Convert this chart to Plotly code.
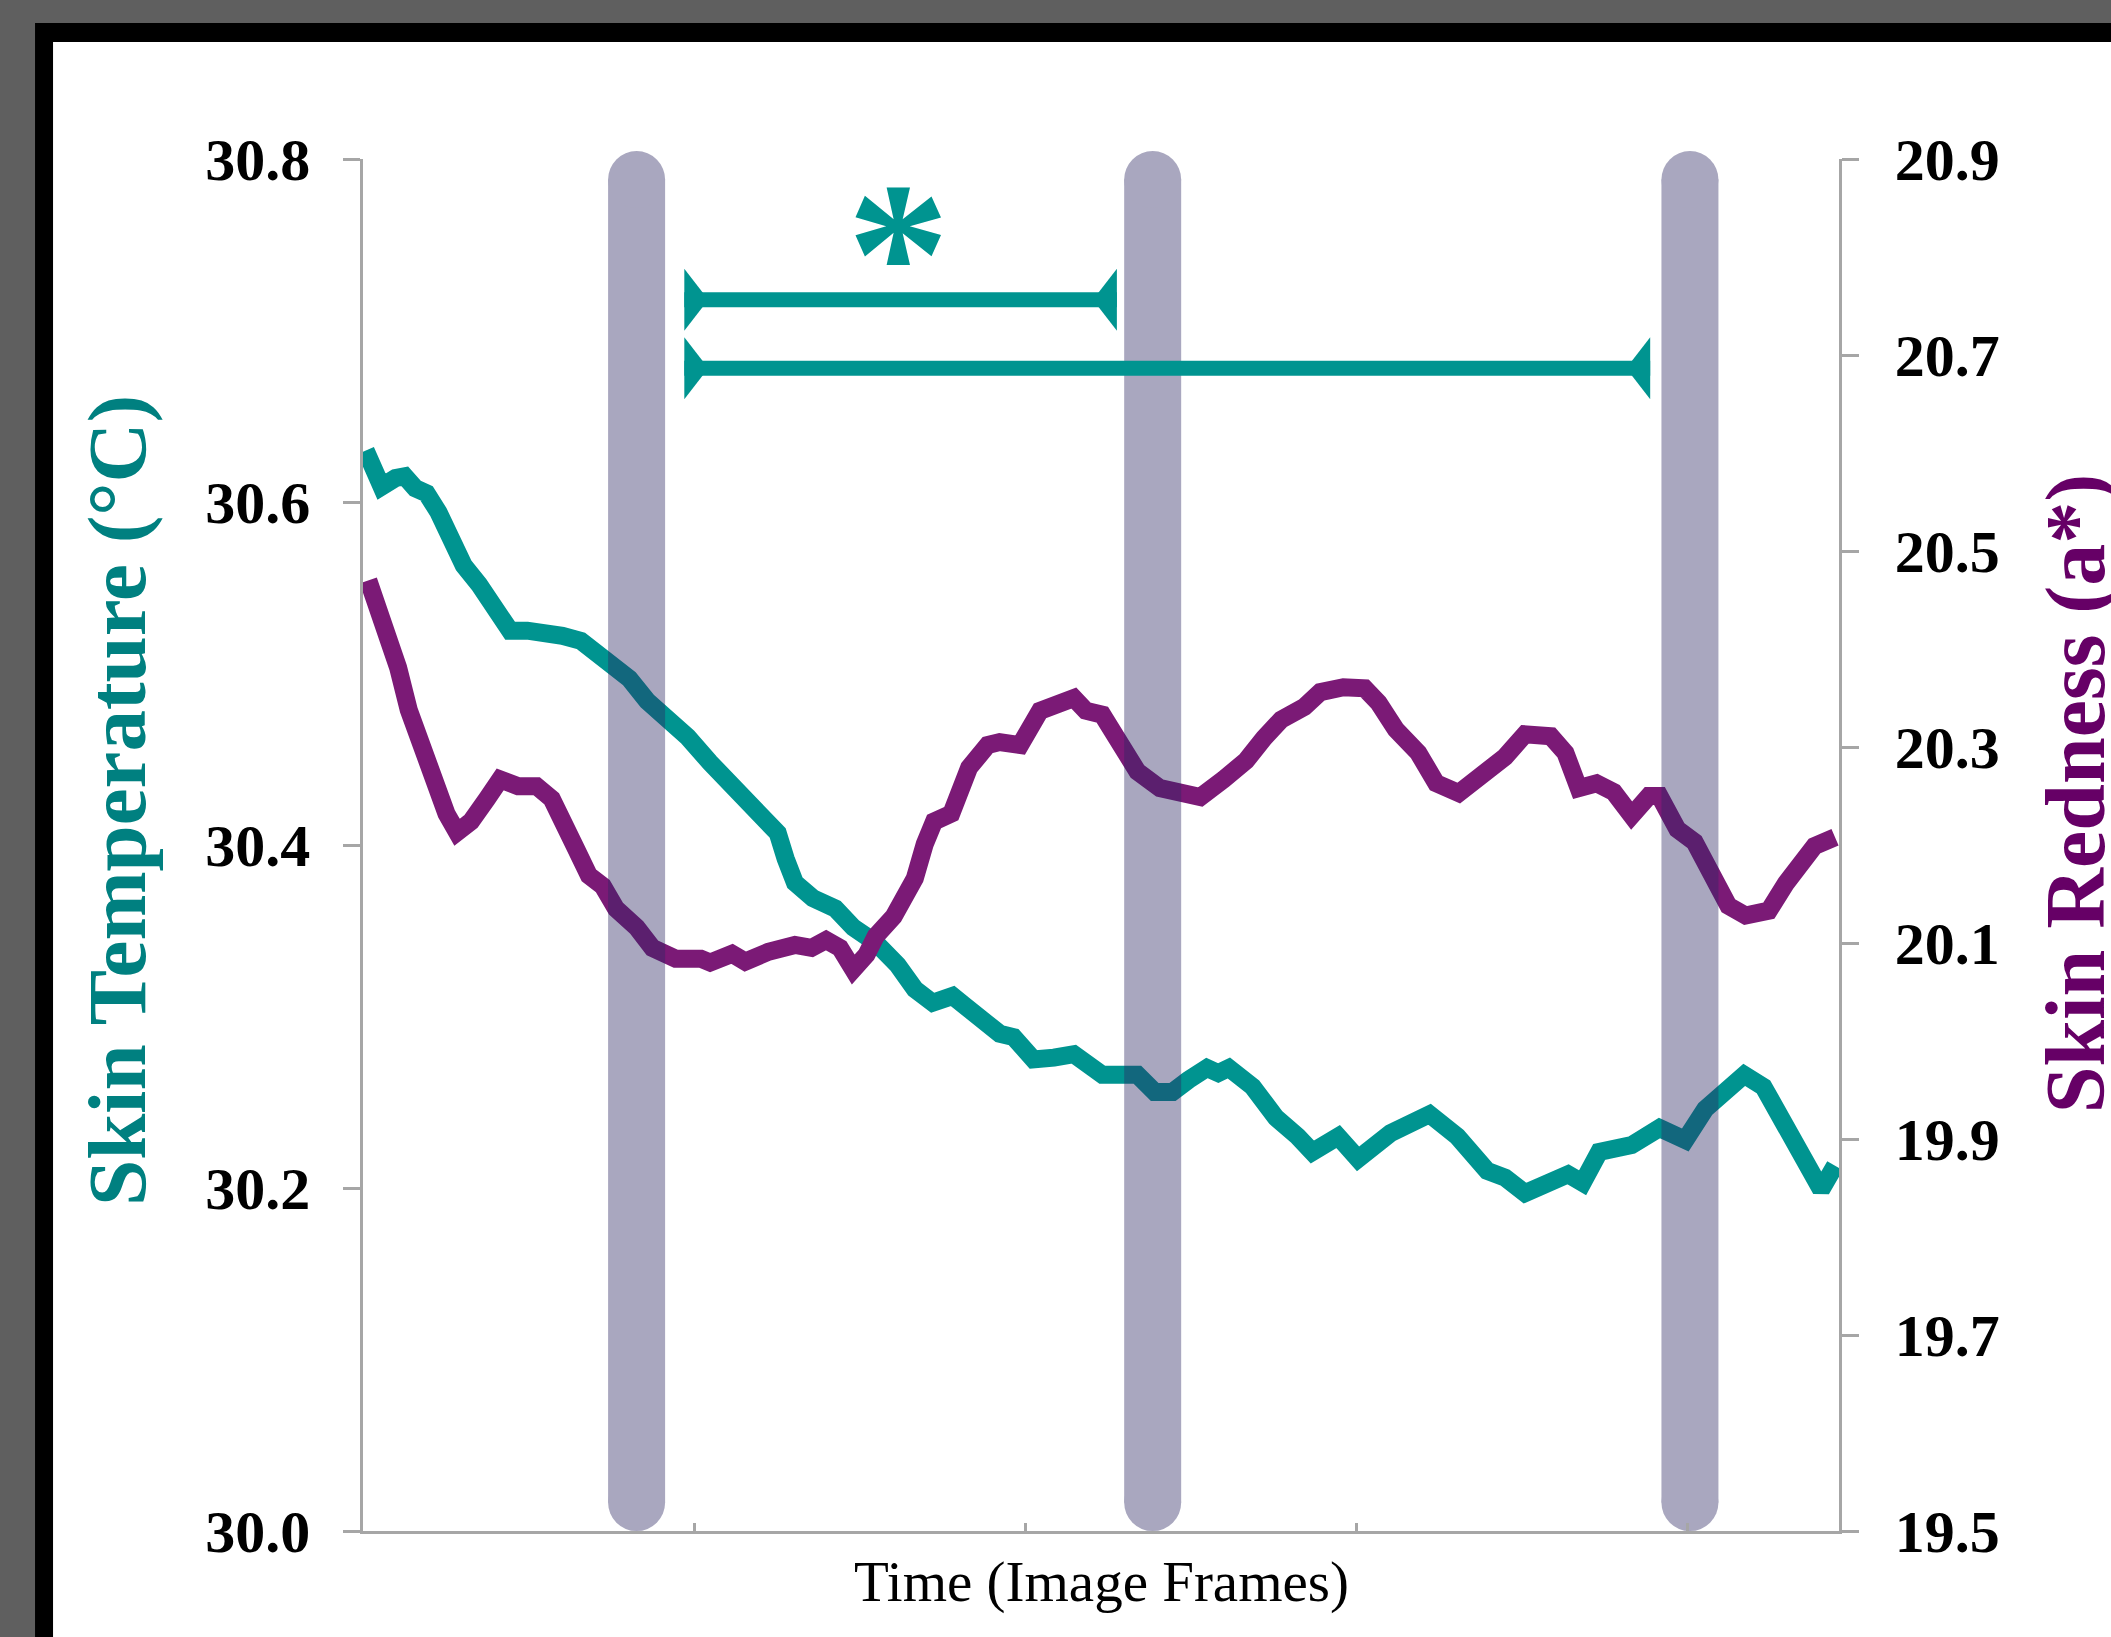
import plotly.graph_objects as go

# ---------------- data ----------------
temp_frames = [0.4, 2.8, 4.9, 6.3, 7.9, 9.6, 11.4, 13.4, 15.2, 17.5, 20.1, 22.2, 24.8, 28.3, 30.1,
               32.9, 35.0, 37.6, 40.2, 42.9, 46.3, 49.0, 52.4, 55.7, 59.1, 62.6, 63.8, 65.2, 67.9,
               71.3, 74.0, 77.4, 80.7, 83.3, 86.0, 87.6, 89.0, 90.6, 92.1, 93.7, 96.1, 98.2, 101.2,
               104.3, 107.3, 111.6, 116.9, 119.5, 122.2, 124.6, 127.4, 129.1, 130.7, 134.3, 137.8,
               141.1, 143.3, 147.2, 150.2, 155.1, 161.0, 165.2, 169.7, 172.4, 175.4, 181.9, 184.1,
               186.6, 191.5, 195.7, 199.6, 202.6, 206.1, 208.5, 211.4, 214.0, 217.5, 220.1, 222.2]
temp_values = [30.630, 30.609, 30.614, 30.615, 30.608, 30.605, 30.594, 30.575, 30.563, 30.552,
               30.535, 30.525, 30.525, 30.524, 30.522, 30.519, 30.512, 30.503, 30.497, 30.484,
               30.474, 30.463, 30.448, 30.434, 30.421, 30.407, 30.392, 30.378, 30.369, 30.363,
               30.352, 30.343, 30.330, 30.316, 30.308, 30.310, 30.312, 30.307, 30.303, 30.298,
               30.290, 30.288, 30.275, 30.276, 30.278, 30.266, 30.266, 30.256, 30.256, 30.263,
               30.270, 30.267, 30.270, 30.259, 30.241, 30.230, 30.221, 30.230, 30.217, 30.232,
               30.243, 30.230, 30.210, 30.206, 30.197, 30.208, 30.203, 30.221, 30.225, 30.235,
               30.228, 30.246, 30.259, 30.266, 30.259, 30.239, 30.217, 30.199, 30.213]

red_frames = [0.8, 3.5, 5.3, 6.9, 8.9, 10.6, 12.6, 14.2, 16.3, 18.7, 20.7, 23.4, 26.2, 28.5, 30.1,
              32.1, 34.1, 36.2, 38.2, 41.3, 43.7, 47.2, 51.0, 52.4, 55.7, 57.7, 61.2, 65.2, 67.7,
              69.9, 72.0, 74.0, 76.0, 77.4, 80.1, 83.3, 84.8, 86.2, 88.8, 91.5, 94.3, 96.1, 99.2,
              102.2, 107.3, 109.1, 111.6, 114.4, 116.9, 120.3, 123.8, 126.4, 129.9, 133.3, 136.0,
              138.6, 142.1, 144.5, 148.0, 151.2, 153.3, 155.9, 159.3, 162.0, 165.4, 168.9, 172.4,
              175.4, 179.3, 181.5, 183.5, 186.2, 188.8, 191.5, 194.1, 195.7, 198.4, 201.0, 203.7,
              206.1, 208.7, 212.2, 214.8, 219.1, 222.2]
red_values = [20.470, 20.423, 20.381, 20.338, 20.298, 20.268, 20.232, 20.213, 20.224, 20.247,
              20.267, 20.260, 20.260, 20.247, 20.220, 20.197, 20.169, 20.158, 20.135, 20.116,
              20.095, 20.084, 20.084, 20.080, 20.089, 20.081, 20.091, 20.098, 20.095, 20.103,
              20.095, 20.073, 20.088, 20.107, 20.127, 20.166, 20.201, 20.224, 20.232, 20.279,
              20.302, 20.305, 20.302, 20.337, 20.350, 20.337, 20.333, 20.302, 20.275, 20.258,
              20.253, 20.249, 20.267, 20.286, 20.309, 20.328, 20.341, 20.356, 20.361, 20.360,
              20.345, 20.318, 20.294, 20.263, 20.253, 20.271, 20.290, 20.313, 20.311, 20.294,
              20.258, 20.263, 20.254, 20.230, 20.250, 20.250, 20.216, 20.203, 20.165, 20.138,
              20.128, 20.133, 20.161, 20.199, 20.208]

event_frames = [41.3, 119.2, 200.3]          # grey vertical markers
event_span_red = [19.529, 20.879]            # vertical extent of the markers (right axis units)

bracket_start = 48.5
bracket_ends = [113.8, 194.3]
bracket_levels = [30.718, 30.678]
asterisk_pos = [80.8, 30.745]

x_range = [0, 222.8]
temp_range = [30.0, 30.8]
temp_ticks = [30.0, 30.2, 30.4, 30.6, 30.8]
red_range = [19.5, 20.9]
red_ticks = [19.5, 19.7, 19.9, 20.1, 20.3, 20.5, 20.7, 20.9]

# ---------------- style ----------------
TEAL = "#009490"
PURPLE = "#7b1a76"
BAR = "rgb(45,41,98)"
AXIS = "#a6a6a6"
FONT = "Liberation Serif"
LINE_W = 18

fig = go.Figure()

fig.add_trace(go.Scatter(x=temp_frames, y=temp_values, mode="lines",
                         line=dict(color=TEAL, width=LINE_W), yaxis="y", hoverinfo="skip"))
fig.add_trace(go.Scatter(x=red_frames, y=red_values, mode="lines",
                         line=dict(color=PURPLE, width=LINE_W), yaxis="y2", hoverinfo="skip"))

bx, by = [], []
for f in event_frames:
    bx += [f, f, None]
    by += [event_span_red[0], event_span_red[1], None]
fig.add_trace(go.Scatter(x=bx, y=by, mode="lines+markers", yaxis="y2",
                         line=dict(color=BAR, width=57),
                         marker=dict(size=57, color=BAR, line=dict(width=0)),
                         opacity=0.41, cliponaxis=False, hoverinfo="skip"))

shapes = []
# outer frame
shapes.append(dict(type="rect", xref="paper", yref="paper", x0=-0.2222, x1=1.25, y0=-0.15, y1=1.0991,
                   fillcolor="black", line=dict(width=0), layer="below"))
shapes.append(dict(type="rect", xref="paper", yref="paper", x0=-0.2100, x1=1.25, y0=-0.15, y1=1.0853,
                   fillcolor="white", line=dict(width=0), layer="below"))
# significance brackets
for xe, yl in zip(bracket_ends, bracket_levels):
    shapes.append(dict(type="line", xref="x", yref="y", x0=bracket_start, x1=xe, y0=yl, y1=yl,
                       line=dict(color=TEAL, width=15), layer="above"))
    shapes.append(dict(type="path", xref="x", yref="y", xsizemode="pixel", ysizemode="pixel",
                       xanchor=bracket_start, yanchor=yl, path="M0,-31 L0,31 L24,0 Z",
                       fillcolor=TEAL, line=dict(width=0), layer="above"))
    shapes.append(dict(type="path", xref="x", yref="y", xsizemode="pixel", ysizemode="pixel",
                       xanchor=xe, yanchor=yl, path="M0,-31 L0,31 L-24,0 Z",
                       fillcolor=TEAL, line=dict(width=0), layer="above"))

annotations = [
    dict(text="Skin Temperature (°C)", textangle=-90, xref="paper", yref="paper",
         x=-0.1667, y=0.5328, xanchor="center", yanchor="middle", showarrow=False,
         font=dict(family=FONT, size=83, color="#008080", weight="bold")),
    dict(text="Skin Redness (a*)", textangle=-90, xref="paper", yref="paper",
         x=1.1607, y=0.5372, xanchor="center", yanchor="middle", showarrow=False,
         font=dict(family=FONT, size=84, color="#660066", weight="bold")),
    dict(text="Time (Image Frames)", xref="paper", yref="paper",
         x=0.5, y=-0.0372, xanchor="center", yanchor="middle", showarrow=False,
         font=dict(family=FONT, size=57, color="black")),
    dict(text="*", xref="x", yref="y", x=asterisk_pos[0], y=asterisk_pos[1],
         xanchor="center", yanchor="middle", showarrow=False,
         font=dict(family=FONT, size=205, color=TEAL, weight="bold")),
]

tickfont = dict(family=FONT, size=60, color="black", weight="bold")
fig.update_layout(
    width=2111, height=1637,
    paper_bgcolor="#5f5f5f", plot_bgcolor="rgba(0,0,0,0)",
    margin=dict(l=363, r=272, t=159, b=106, pad=0, autoexpand=False),
    showlegend=False,
    xaxis=dict(range=x_range, showline=True, linecolor=AXIS, linewidth=2.5,
               ticks="inside", ticklen=8, tickwidth=2.5, tickcolor=AXIS,
               tick0=0, dtick=50, showticklabels=False, showgrid=False, zeroline=False),
    yaxis=dict(range=temp_range, tickvals=temp_ticks, ticktext=[f"{v:.1f}" for v in temp_ticks],
               showline=True, linecolor=AXIS, linewidth=2.5,
               ticks="outside", ticklen=17, tickwidth=2.5, tickcolor=AXIS,
               tickfont=tickfont, ticklabelstandoff=21, showgrid=False, zeroline=False),
    yaxis2=dict(range=red_range, tickvals=red_ticks, ticktext=[f"{v:.1f}" for v in red_ticks],
                overlaying="y", side="right", anchor="x",
                showline=True, linecolor=AXIS, linewidth=2.5,
                ticks="outside", ticklen=17, tickwidth=2.5, tickcolor=AXIS,
                tickfont=tickfont, ticklabelstandoff=24, showgrid=False, zeroline=False),
    shapes=shapes, annotations=annotations,
)

fig.write_html(
    "out.html",
    config={"displayModeBar": False},
    post_script="document.body.style.margin='0';document.body.style.padding='0';"
                "document.body.style.background='#5f5f5f';",
)
